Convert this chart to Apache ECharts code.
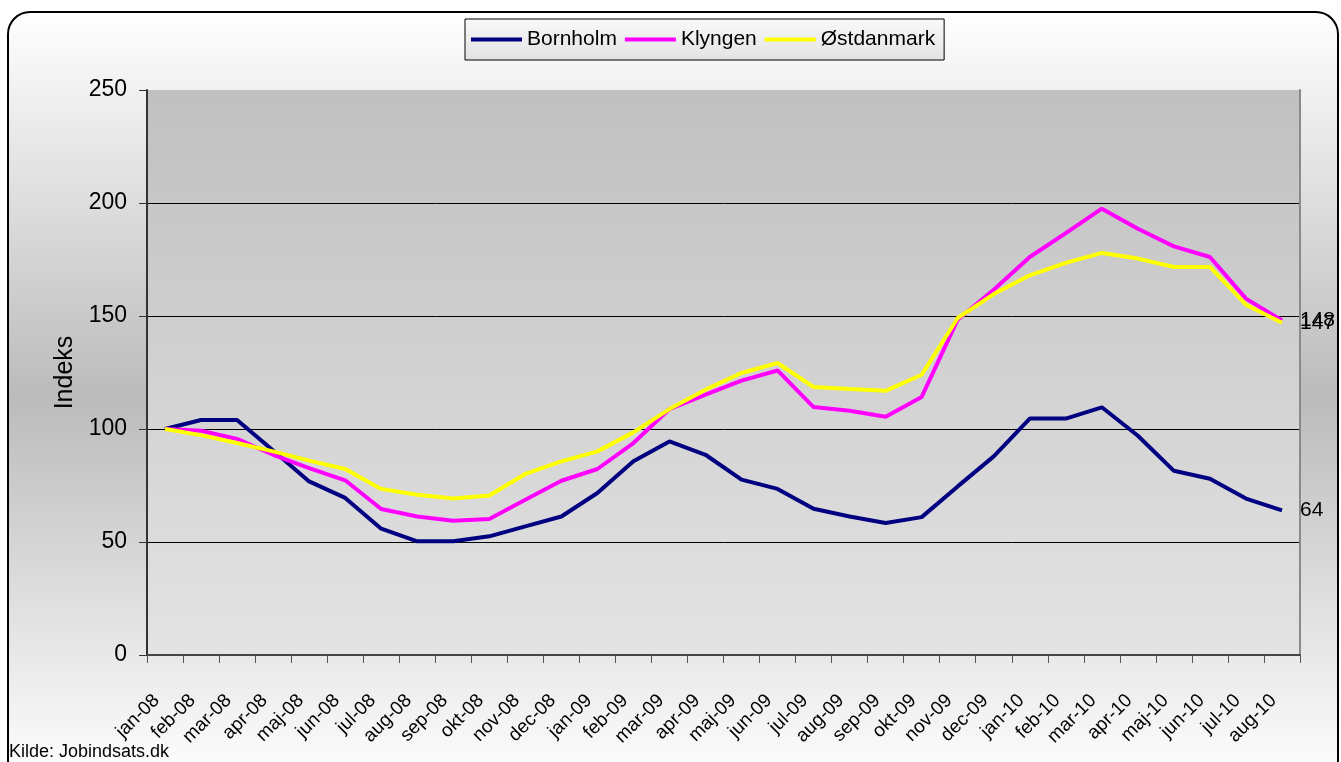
<!DOCTYPE html>
<html>
<head>
<meta charset="utf-8">
<title>Indeks Bornholm / Klyngen / Østdanmark</title>
<script src="https://cdn.jsdelivr.net/npm/echarts@6.0.0/dist/echarts.min.js"></script>
<style>
    html, body { margin: 0; padding: 0; background: #fff; }
    #chartMain { width: 1341px; height: 762px; }
</style>
</head>
<body>
<div id="chartMain"></div>
<script>
    // data (jan-08 = 100)
    let months = ['jan-08', 'feb-08', 'mar-08', 'apr-08', 'maj-08', 'jun-08', 'jul-08', 'aug-08',
        'sep-08', 'okt-08', 'nov-08', 'dec-08', 'jan-09', 'feb-09', 'mar-09', 'apr-09',
        'maj-09', 'jun-09', 'jul-09', 'aug-09', 'sep-09', 'okt-09', 'nov-09', 'dec-09',
        'jan-10', 'feb-10', 'mar-10', 'apr-10', 'maj-10', 'jun-10', 'jul-10', 'aug-10'];

    let bornholm = [100, 104, 104, 90.5, 76.8, 69.5, 55.9, 50.3, 50.3, 52.5, 56.9, 61.3,
        71.7, 85.7, 94.5, 88.6, 77.6, 73.5, 64.7, 61.3, 58.4, 61, 74.6, 87.9,
        104.6, 104.6, 109.6, 97, 81.5, 78, 69.2, 64];

    let klyngen = [100, 99.2, 95.6, 88.6, 82.7, 77.3, 64.6, 61.3, 59.4, 60.2, 68.7, 77.1,
        82.3, 93.8, 108.8, 115.2, 121.4, 125.9, 109.7, 108.1, 105.4, 114.2, 148.4, 161.6,
        176.1, 186.7, 197.5, 188.6, 180.8, 176.1, 157.7, 148];

    let ostdanmark = [100, 97.3, 93.8, 90.1, 86, 82.3, 73.5, 70.9, 69.2, 70.6, 80.1, 85.7,
        90.1, 98.5, 108.8, 117.4, 124.8, 129.2, 118.6, 117.7, 116.9, 124, 149.1, 159.7,
        168, 173.5, 177.9, 175.4, 171.7, 171.7, 155, 147];

    let yMin = 0, yMax = 250, yStep = 50;

    let font = '"Liberation Sans", Arial, sans-serif';

    let myChart = echarts.init(document.getElementById('chartMain'));

    function lineSeries(name, data, color) {
        return {
            name: name,
            type: 'line',
            data: data,
            symbol: 'none',
            lineStyle: { color: color, width: 4 },
            itemStyle: { color: color },
            endLabel: {
                show: true,
                formatter: '{c}',
                distance: 18,
                color: '#000',
                fontSize: 21,
                fontFamily: font
            }
        };
    }

    myChart.setOption({
        animation: false,
        backgroundColor: '#fff',
        textStyle: { fontFamily: font },
        graphic: [
            {
                type: 'rect',
                z: -10,
                silent: true,
                shape: { x: 8, y: 12, width: 1330, height: 770, r: 22 },
                style: {
                    fill: new echarts.graphic.LinearGradient(0, 0, 0, 1, [
                        { offset: 0, color: '#ffffff' },
                        { offset: 0.5, color: '#bbbbbb' },
                        { offset: 1, color: '#ffffff' }
                    ]),
                    stroke: '#000',
                    lineWidth: 2
                }
            },
            {
                type: 'text',
                left: 9,
                top: 743,
                z: 100,
                style: {
                    text: 'Kilde: Jobindsats.dk',
                    fontSize: 18,
                    fontFamily: font,
                    fill: '#000'
                }
            }
        ],
        legend: {
            top: 19,
            left: 465,
            data: ['Bornholm', 'Klyngen', 'Østdanmark'],
            icon: 'rect',
            itemWidth: 51,
            itemHeight: 4,
            itemGap: 8,
            padding: [10, 9, 10, 6],
            borderColor: '#000',
            borderWidth: 1,
            backgroundColor: new echarts.graphic.LinearGradient(0, 0, 0, 1, [
                { offset: 0, color: '#fafafa' },
                { offset: 1, color: '#e2e2e2' }
            ]),
            textStyle: { fontSize: 21, color: '#000', fontFamily: font }
        },
        grid: {
            left: 147,
            right: 41,
            top: 90,
            bottom: 107,
            show: true,
            borderWidth: 0,
            backgroundColor: new echarts.graphic.LinearGradient(0, 0, 0, 1, [
                { offset: 0, color: '#c0c0c0' },
                { offset: 1, color: '#e3e3e3' }
            ])
        },
        xAxis: {
            type: 'category',
            data: months,
            boundaryGap: true,
            axisLine: { lineStyle: { color: '#444', width: 2 } },
            axisTick: { show: true, length: 8, alignWithLabel: false, lineStyle: { color: '#555' } },
            axisLabel: {
                interval: 0,
                rotate: 45,
                margin: 34,
                padding: [0, 12, 0, 0],
                fontSize: 19,
                color: '#000',
                fontFamily: font
            },
            splitLine: { show: false }
        },
        yAxis: [
            {
                type: 'value',
                min: yMin,
                max: yMax,
                interval: yStep,
                name: 'Indeks',
                nameLocation: 'middle',
                nameGap: 67,
                nameTextStyle: { fontSize: 25, color: '#000', fontFamily: font },
                axisLine: { show: true, lineStyle: { color: '#333', width: 2 } },
                axisTick: { show: true, length: 8, lineStyle: { color: '#333' } },
                axisLabel: { margin: 20, fontSize: 23, color: '#000', fontFamily: font },
                splitLine: {
                    show: true,
                    lineStyle: {
                        color: ['rgba(0,0,0,0)', '#000', '#000', '#000', '#000', 'rgba(0,0,0,0)'],
                        width: 1
                    }
                }
            },
            {
                // right edge of the plot area
                type: 'value',
                position: 'right',
                min: yMin,
                max: yMax,
                interval: yStep,
                axisLine: { show: true, lineStyle: { color: '#8a8a8a', width: 2 } },
                axisTick: { show: false },
                axisLabel: { show: false },
                splitLine: { show: false }
            }
        ],
        series: [
            lineSeries('Bornholm', bornholm, '#000080'),
            lineSeries('Klyngen', klyngen, '#ff00ff'),
            lineSeries('Østdanmark', ostdanmark, '#ffff00')
        ]
    });
</script>
</body>
</html>
